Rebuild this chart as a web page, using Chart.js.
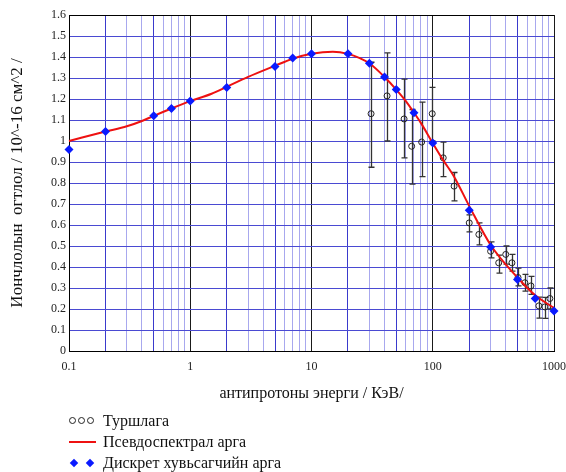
<!DOCTYPE html>
<html>
<head>
<meta charset="utf-8">
<script src="https://cdn.jsdelivr.net/npm/chart.js@4"></script>
<style>
  body { margin: 0; background: #fff; }
  #wrap { position: relative; width: 566px; height: 472px; }
  #legend { position: absolute; left: 69px; top: 410px; font-family: "Liberation Serif", "Times New Roman", serif; font-size: 16px; color: #111; }
  .row { display: flex; align-items: center; height: 21px; }
  .sym { width: 34px; display: flex; align-items: center; }
  .circ { display: inline-block; width: 5px; height: 5px; border: 1px solid #222; border-radius: 50%; margin-right: 2px; }
  .line { display: inline-block; width: 27px; height: 2px; background: #ee1111; }
  .dia { display: inline-block; width: 6px; height: 6px; background: #0a1aff; transform: rotate(45deg); margin-left: 2px; margin-right: 8px; }
</style>
</head>
<body>
<div id="wrap">
  <canvas id="c" width="566" height="472"></canvas>
  <div id="legend">
    <div class="row"><span class="sym"><span class="circ"></span><span class="circ"></span><span class="circ"></span></span><span>Туршлага</span></div>
    <div class="row"><span class="sym"><span class="line"></span></span><span>Псевдоспектрал арга</span></div>
    <div class="row"><span class="sym"><span class="dia"></span><span class="dia"></span></span><span>Дискрет хувьсагчийн арга</span></div>
  </div>
</div>
<script>
// Discrete-variable method (blue diamonds)
const diamondE = [0.1, 0.2, 0.5, 0.7, 1, 2, 5, 7, 10, 20, 30, 40, 50, 70, 100, 200, 300, 500, 700, 1000];
const diamondV = [0.96, 1.045, 1.12, 1.155, 1.19, 1.255, 1.355, 1.395, 1.415, 1.415, 1.37, 1.305, 1.245, 1.135, 0.99, 0.67, 0.495, 0.34, 0.25, 0.19];

// Pseudospectral method (red curve)
const curveE = [0.1, 0.2, 0.3, 0.4, 0.5, 0.7, 1, 1.5, 2, 3, 5, 7, 10, 15, 20, 25, 30, 40, 50, 60, 70, 80, 100, 120, 150, 200, 300, 500, 700, 1000];
const curveV = [1.0, 1.045, 1.07, 1.095, 1.12, 1.155, 1.19, 1.225, 1.258, 1.305, 1.358, 1.392, 1.415, 1.425, 1.415, 1.395, 1.37, 1.305, 1.245, 1.19, 1.135, 1.085, 0.99, 0.915, 0.83, 0.69, 0.505, 0.35, 0.265, 0.205];

// Experiment (open circles with error bars)
const expE  = [31, 42, 58, 67, 81, 99, 122, 150, 200, 240, 300, 350, 400, 450, 505, 575, 645, 750, 840, 925];
const expV  = [1.13, 1.215, 1.105, 0.975, 0.995, 1.13, 0.92, 0.785, 0.61, 0.555, 0.475, 0.42, 0.46, 0.42, 0.35, 0.325, 0.31, 0.215, 0.21, 0.25];
const expLo = [0.875, 1.0, 0.92, 0.795, 0.83, 1.0, 0.83, 0.715, 0.567, 0.505, 0.443, 0.371, 0.414, 0.38, 0.31, 0.285, 0.27, 0.157, 0.155, 0.2];
const expHi = [1.375, 1.42, 1.295, 1.15, 1.185, 1.255, 0.995, 0.85, 0.648, 0.61, 0.52, 0.457, 0.5, 0.46, 0.395, 0.365, 0.355, 0.257, 0.255, 0.3];

// Axis ticks
const xTickValues = [];
[0.1, 1, 10, 100].forEach(d => { for (let m = 1; m <= 9; m++) xTickValues.push(+(m * d).toPrecision(3)); });
xTickValues.push(1000);
const yMin = 0, yMax = 1.6, yStep = 0.1;

const SERIF = '"Liberation Serif", "Times New Roman", serif';

function mantissa(v) {
  const e = Math.floor(Math.log10(v) + 1e-9);
  return Math.round(v / Math.pow(10, e));
}
function xGridColor(c) {
  const v = c.tick && c.tick.value;
  if (v == null) return '#000';
  const m = mantissa(v);
  if (m === 1) return '#1a1a1a';
  if (m === 2 || m === 5) return '#3a3acc';
  return '#a8a8ee';
}
function yGridColor(c) {
  const v = c.tick && c.tick.value;
  if (v == null) return '#000';
  if (Math.abs(v - yMin) < 1e-9 || Math.abs(v - yMax) < 1e-9) return '#000';
  return '#4a4ad2';
}

const errorBars = {
  id: 'errorBars',
  beforeDatasetsDraw(chart) {
    const { ctx, scales: { x, y } } = chart;
    ctx.save();
    ctx.strokeStyle = '#333';
    ctx.lineWidth = 1.3;
    expE.forEach((e, i) => {
      const px = Math.round(x.getPixelForValue(e)) + 0.5;
      const y1 = y.getPixelForValue(expLo[i]);
      const y2 = y.getPixelForValue(expHi[i]);
      ctx.beginPath();
      ctx.moveTo(px, y1); ctx.lineTo(px, y2);
      ctx.moveTo(px - 3, y1); ctx.lineTo(px + 3, y1);
      ctx.moveTo(px - 3, y2); ctx.lineTo(px + 3, y2);
      ctx.stroke();
    });
    ctx.restore();
  }
};

new Chart(document.getElementById('c'), {
  type: 'scatter',
  data: {
    datasets: [
      {
        label: 'Дискрет хувьсагчийн арга',
        data: diamondE.map((x, i) => ({ x, y: diamondV[i] })),
        pointStyle: 'rectRot', pointRadius: 4.5,
        backgroundColor: '#0a1aff', borderColor: '#0a1aff', borderWidth: 0,
        showLine: false, order: 0, clip: false
      },
      {
        label: 'Псевдоспектрал арга',
        data: curveE.map((x, i) => ({ x, y: curveV[i] })),
        showLine: true, borderColor: '#ee1111', borderWidth: 2,
        pointRadius: 0, cubicInterpolationMode: 'monotone', order: 1, clip: false
      },
      {
        label: 'Туршлага',
        data: expE.map((x, i) => ({ x, y: expV[i] })),
        pointStyle: 'circle', pointRadius: 3,
        borderColor: '#222', backgroundColor: 'rgba(0,0,0,0)', borderWidth: 1,
        showLine: false, order: 2, clip: false
      }
    ]
  },
  options: {
    responsive: false,
    animation: false,
    layout: { padding: { left: 0, right: 12, top: 15, bottom: 0 } },
    plugins: { legend: { display: false }, tooltip: { enabled: false } },
    scales: {
      x: {
        type: 'logarithmic', min: 0.1, max: 1000,
        afterBuildTicks(s) { s.ticks = xTickValues.map(v => ({ value: v })); },
        afterFit(s) { s.height = 121; s.paddingLeft = 0; s.paddingRight = 0; },
        grid: { color: xGridColor, drawTicks: false, lineWidth: 1 },
        border: { color: '#000', width: 1 },
        ticks: {
          autoSkip: false, maxRotation: 0, minRotation: 0, padding: 9, color: '#222',
          font: { family: SERIF, size: 12 },
          callback(v) { return mantissa(v) === 1 ? (v < 1 ? '0.1' : String(Math.round(v))) : ''; }
        },
        title: {
          display: true, text: 'антипротоны энерги / КэВ/', color: '#111',
          font: { family: SERIF, size: 16 }, padding: { top: 0, bottom: 69 }
        }
      },
      y: {
        min: yMin, max: yMax,
        afterFit(s) { s.width = 69; },
        grid: { color: yGridColor, drawTicks: false, lineWidth: 1 },
        border: { color: '#000', width: 1 },
        ticks: {
          stepSize: yStep, padding: 3, color: '#222',
          font: { family: SERIF, size: 12 },
          callback(v) { return String(Number(v.toFixed(1))); }
        },
        title: {
          display: true, text: 'Иончлолын  огтлол / 10^-16 см^2 /', color: '#111',
          font: { family: SERIF, size: 17 }, padding: { top: 7, bottom: 0 }
        }
      }
    }
  },
  plugins: [errorBars]
});
</script>
</body>
</html>
